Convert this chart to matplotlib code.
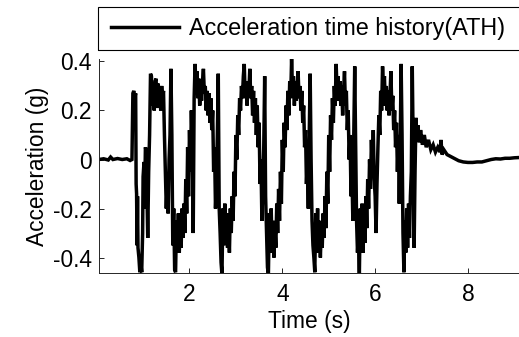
"""Acceleration time history (ATH) plot."""
import matplotlib
matplotlib.use('Agg')
import matplotlib.pyplot as plt
from matplotlib.patches import Rectangle
from matplotlib.ticker import FuncFormatter

# Values: time [s] and acceleration [g]
TIME_S = [
    # quiet start
    0.05, 0.15, 0.25, 0.30, 0.35, 0.45, 0.55, 0.65, 0.72, 0.76,
    # first cycle
    0.78, 0.80, 0.82, 0.84, 0.85, 0.86, 0.87, 0.88, 0.89, 0.91, 0.93, 0.95,
    0.97, 0.99, 1.00, 1.02, 1.03, 1.05, 1.07, 1.08,
    1.10, 1.12, 1.14, 1.16, 1.18, 1.20, 1.22, 1.24, 1.26, 1.28, 1.30, 1.32,
    1.34, 1.36, 1.38, 1.40, 1.42, 1.44, 1.46, 1.48, 1.50, 1.52, 1.54, 1.56,
    1.58, 1.60, 1.62, 1.64, 1.66, 1.68, 1.70, 1.72, 1.74, 1.76, 1.78, 1.80,
    1.82, 1.84, 1.86, 1.88, 1.90, 1.92, 1.94, 1.96, 1.98, 2.00, 2.02, 2.04,
    2.06, 2.08, 2.10,
    # second cycle
    2.12, 2.14, 2.16, 2.18, 2.20, 2.22, 2.24, 2.26, 2.28, 2.30, 2.32, 2.34,
    2.36, 2.38, 2.40, 2.42, 2.44, 2.46, 2.48, 2.50, 2.52, 2.54, 2.56, 2.58,
    2.60, 2.62, 2.64, 2.66, 2.68, 2.70, 2.72, 2.74, 2.76, 2.78, 2.80, 2.82,
    2.84, 2.86, 2.88, 2.90, 2.92, 2.94, 2.96, 2.98, 3.00, 3.02, 3.04, 3.06,
    3.08, 3.10,
    # third cycle
    3.12, 3.14, 3.16, 3.18, 3.20, 3.22, 3.24, 3.26, 3.28, 3.30, 3.32, 3.34,
    3.36, 3.38, 3.40, 3.42, 3.44, 3.46, 3.48, 3.50, 3.52, 3.54, 3.56, 3.58,
    3.60, 3.62, 3.64, 3.66, 3.68, 3.70, 3.72, 3.74, 3.76, 3.78, 3.80, 3.82,
    3.84, 3.86, 3.88, 3.90, 3.92, 3.94, 3.96, 3.98, 4.00, 4.02, 4.04, 4.06,
    4.08, 4.10, 4.12, 4.14, 4.16, 4.18,
    # fourth cycle
    4.20, 4.22, 4.24, 4.26, 4.28, 4.30, 4.32, 4.34, 4.36, 4.38, 4.40, 4.42,
    4.44, 4.46, 4.48, 4.50, 4.52, 4.54, 4.56, 4.58, 4.60, 4.62, 4.64, 4.66,
    4.68, 4.70, 4.72, 4.74, 4.76, 4.78, 4.80, 4.82, 4.84, 4.86, 4.88, 4.90,
    4.92, 4.94, 4.96, 4.98, 5.00, 5.02, 5.04, 5.06, 5.08, 5.10, 5.12, 5.14,
    # fifth cycle
    5.16, 5.18, 5.20, 5.22, 5.24, 5.26, 5.28, 5.30, 5.32, 5.34, 5.36, 5.38,
    5.40, 5.42, 5.44, 5.46, 5.48, 5.50, 5.52, 5.54, 5.56, 5.58, 5.60, 5.62,
    5.64, 5.66, 5.68, 5.70, 5.72, 5.74, 5.76, 5.78, 5.80, 5.82, 5.84, 5.86,
    5.88, 5.90, 5.92, 5.94, 5.96, 5.98, 6.00, 6.02, 6.04, 6.06, 6.08, 6.10,
    6.12, 6.14,
    # last cycle
    6.16, 6.18, 6.20, 6.22, 6.24, 6.26, 6.28, 6.30, 6.32, 6.34, 6.36, 6.38,
    6.40, 6.42, 6.44, 6.46, 6.48, 6.50, 6.52, 6.54, 6.56, 6.58, 6.60, 6.62,
    6.64, 6.66, 6.68, 6.70, 6.72, 6.74, 6.76, 6.78, 6.80, 6.82, 6.84, 6.86,
    6.88, 6.90,
    # decay
    6.92, 6.95, 6.98, 7.02, 7.06, 7.10, 7.15, 7.20, 7.25, 7.30, 7.35, 7.40,
    7.42, 7.44, 7.48, 7.55, 7.60, 7.70, 7.80, 7.90, 8.00, 8.10, 8.20, 8.30,
    8.40, 8.50, 8.60, 8.70, 8.80, 8.90, 9.00, 9.10,
]

ACCEL_G = [
    # quiet start
    0.000, 0.003, -0.002, 0.010, 0.000, 0.004, 0.000, 0.003, -0.004, 0.000,
    # first cycle
    0.27, 0.28, 0.25, 0.27, -0.10, -0.14, -0.35, -0.15, -0.36, -0.40, -0.46,
    -0.42, -0.46, -0.30, -0.07, -0.01, -0.20, 0.05, 0.03, -0.10,
    -0.32, -0.05, 0.10, 0.35, 0.34, 0.22, 0.30, 0.20, 0.32, 0.33, 0.21, 0.31,
    0.22, 0.30, 0.20, 0.30, 0.25, 0.28, 0.10, -0.05, -0.20, -0.10, -0.22,
    0.00, 0.10, 0.37, 0.10, -0.35, -0.20, -0.45, -0.46, -0.25, -0.35, -0.22,
    -0.38, -0.25, -0.36, -0.20, -0.32, -0.18, -0.30, -0.08, -0.22, 0.05,
    -0.15, 0.12, -0.05, 0.20, 0.05, -0.30, 0.25,
    # second cycle
    0.39, 0.30, 0.36, 0.25, 0.33, 0.22, 0.30, 0.24, 0.32, 0.37, 0.27, 0.30,
    0.20, 0.28, 0.18, 0.27, 0.15, 0.25, 0.12, 0.20, -0.05, 0.05, -0.20, -0.10,
    0.10, 0.35, -0.20, -0.30, -0.42, -0.47, -0.20, -0.35, -0.18, -0.33, -0.22,
    -0.36, -0.25, -0.38, -0.20, -0.30, -0.15, -0.25, -0.05, -0.15, 0.10, 0.00,
    0.18, 0.10, 0.25, 0.20,
    # third cycle
    0.30, 0.25, 0.34, 0.39, 0.25, 0.32, 0.22, 0.30, 0.28, 0.37, 0.25, 0.30,
    0.18, 0.28, 0.15, 0.25, 0.10, 0.22, 0.05, 0.15, -0.10, 0.00, -0.25, -0.10,
    0.05, 0.34, -0.15, -0.30, -0.44, -0.47, -0.22, -0.38, -0.20, -0.36, -0.25,
    -0.40, -0.28, -0.36, -0.18, -0.30, -0.12, -0.25, -0.05, -0.18, 0.08, -0.05,
    0.15, 0.05, 0.22, 0.12, 0.28, 0.18, 0.32, 0.25,
    # fourth cycle
    0.41, 0.28, 0.34, 0.22, 0.32, 0.24, 0.30, 0.36, 0.25, 0.30, 0.20, 0.28,
    0.15, 0.22, 0.05, 0.12, -0.10, 0.00, -0.20, 0.10, 0.35, 0.00, -0.25, -0.35,
    -0.40, -0.46, -0.22, -0.35, -0.20, -0.38, -0.25, -0.40, -0.28, -0.36,
    -0.22, -0.32, -0.15, -0.28, -0.05, -0.18, 0.10, -0.05, 0.18, 0.08, 0.25,
    0.15, 0.30, 0.22,
    # fifth cycle
    0.39, 0.28, 0.34, 0.24, 0.32, 0.22, 0.30, 0.18, 0.28, 0.36, 0.22, 0.28,
    0.12, 0.20, 0.00, 0.10, -0.15, -0.05, -0.25, 0.10, 0.38, 0.05, -0.25,
    -0.38, -0.30, -0.47, -0.20, -0.36, -0.18, -0.38, -0.22, -0.34, -0.15,
    -0.28, -0.08, -0.20, 0.00, -0.12, 0.08, -0.05, 0.12, -0.08, -0.15, -0.30,
    -0.10, 0.05, 0.18, 0.10, 0.28, 0.20,
    # last cycle
    0.38, 0.28, 0.34, 0.22, 0.30, 0.20, 0.28, 0.18, 0.26, 0.36, 0.20, 0.26,
    0.12, 0.20, 0.05, 0.15, -0.05, 0.10, -0.18, 0.05, 0.39, 0.10, -0.30,
    -0.46, -0.25, -0.38, -0.20, -0.36, -0.18, -0.32, -0.15, -0.05, 0.38, 0.05,
    -0.36, -0.05, 0.17, 0.08,
    # decay
    0.14, 0.07, 0.12, 0.06, 0.10, 0.05, 0.08, 0.04, 0.06, 0.03, 0.05, 0.03,
    0.08, 0.02, 0.04, 0.02, 0.015, 0.005, -0.005, -0.010, -0.012, -0.012,
    -0.010, -0.010, -0.005, 0.000, 0.003, 0.002, 0.005, 0.005, 0.007, 0.008,
]

X_TICKS = [2, 4, 6, 8]
Y_TICKS = [-0.4, -0.2, 0, 0.2, 0.4]
LEGEND_LABEL = 'Acceleration time history(ATH)'

FONT_SIZE = 16.4
AXIS_COLOR = '#262626'


def main():
    plt.rcParams['font.family'] = ['Liberation Sans', 'DejaVu Sans']
    plt.rcParams['axes.unicode_minus'] = False

    # Figure and axes placed in pixel terms of a 519x337 image
    fig = plt.figure(figsize=(5.19, 3.37), dpi=100)
    w, h = 519.0, 337.0
    ax = fig.add_axes([99 / w, 1 - 273 / h, 1 - 99 / w, (273 - 59) / h])

    line, = ax.plot(TIME_S, ACCEL_G, color='black', linewidth=2.5,
                    solid_joinstyle='miter', label=LEGEND_LABEL)

    ax.set_xlim(0.05, 9.1)
    ax.set_ylim(-0.463, 0.41)
    ax.set_xticks(X_TICKS)
    ax.set_yticks(Y_TICKS)
    ax.yaxis.set_major_formatter(FuncFormatter(lambda v, p: '%g' % v))

    # MATLAB look: box off, ticks inside
    for side in ['top', 'right']:
        ax.spines[side].set_visible(False)
    for side in ['left', 'bottom']:
        ax.spines[side].set_color(AXIS_COLOR)
        ax.spines[side].set_linewidth(0.7)
    ax.tick_params(direction='in', length=3.5, width=0.7, color=AXIS_COLOR,
                   labelsize=FONT_SIZE, labelcolor='black')
    ax.tick_params(axis='x', pad=7)
    ax.tick_params(axis='y', pad=5)

    ax.set_xlabel('Time (s)', fontsize=FONT_SIZE, labelpad=3)
    ax.set_ylabel('Acceleration (g)', fontsize=FONT_SIZE, labelpad=3)

    # Legend sits above the axes in its own box
    fig.legend(handles=[line], loc='center left',
               bbox_to_anchor=(111 / w, 1 - 29 / h), frameon=False,
               borderpad=0, borderaxespad=0, handlelength=2.9,
               handletextpad=0.45, fontsize=16.8)
    fig.patches.append(Rectangle((97.7 / w, 1 - 49.5 / h), (530 - 97.7) / w,
                                 (49.5 - 6.7) / h, transform=fig.transFigure,
                                 fill=False, edgecolor='black', linewidth=0.8))

    fig.savefig('out.png', dpi=100)
    plt.close(fig)


if __name__ == '__main__':
    main()
